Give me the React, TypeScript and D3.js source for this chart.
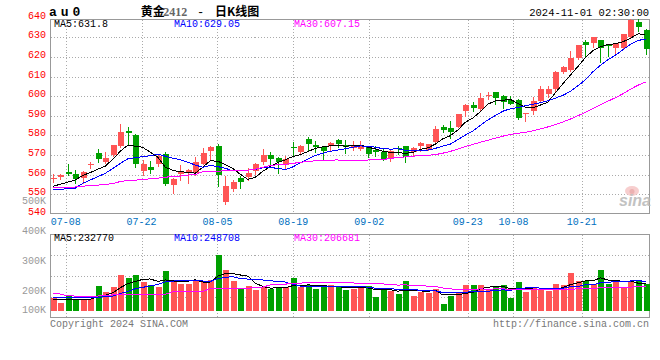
import React from "react";
import * as d3 from "d3";

const dates = [
  "07-04","07-05","07-08","07-09","07-10","07-11","07-12","07-15","07-16","07-17",
  "07-18","07-19","07-22","07-23","07-24","07-25","07-26","07-29","07-30","07-31",
  "08-01","08-02","08-05","08-06","08-07","08-08","08-09","08-12","08-13","08-14",
  "08-15","08-16","08-19","08-20","08-21","08-22","08-23","08-26","08-27","08-28",
  "08-29","08-30","09-02","09-03","09-04","09-05","09-06","09-09","09-10","09-11",
  "09-12","09-13","09-18","09-19","09-20","09-23","09-24","09-25","09-26","09-27",
  "09-30","10-08","10-09","10-10","10-11","10-14","10-15","10-16","10-17","10-18",
  "10-21","10-22","10-23","10-24","10-25","10-28","10-29","10-30","10-31","11-01",
];

const opens = [
  557.9, 558.5, 561.4, 560.3, 558, 564.9, 571, 566.4, 570.2, 574.4,
  582.2, 580.2, 561.9, 563.9, 565.3, 570.7, 554.7, 560.2, 561.4, 561,
  565.6, 572.2, 574.6, 545.8, 552.4, 558, 558.5, 561.9, 566.4, 570.2,
  568.5, 564.9, 574.1, 571.4, 578.1, 575.3, 573.9, 574.4, 577.6, 575.3,
  573.3, 573.1, 574.4, 572.7, 571.4, 568.5, 573.7, 574.4, 571.5, 574.4,
  572.7, 576.4, 584.4, 583.6, 584.2, 592.4, 595.3, 593.6, 600.4, 601.9,
  600.2, 598.1, 598.1, 591, 592.4, 597.5, 601.2, 603.4, 612.4, 613.4,
  619.2, 627.6, 627.3, 628.6, 626.3, 624.4, 624.6, 630, 637.8, 633.9,
];

const closes = [
  558.1, 559.7, 560.5, 557.8, 561.4, 565.6, 568.1, 568.5, 575.1, 581.7,
  581.4, 565.6, 565.6, 562.5, 569.5, 555.4, 557.8, 561.2, 562.4, 566.5,
  570.8, 574.1, 560, 554.2, 556.3, 556, 560.8, 565.6, 569.7, 568.1,
  566.4, 567.8, 573.9, 574.7, 575.8, 574.2, 572.2, 576.1, 575.8, 574.2,
  574.7, 574.4, 570.5, 571.7, 567.8, 572.2, 573.5, 569, 573.6, 576.1,
  575.6, 583.4, 582.5, 581.5, 590.7, 595.3, 594.1, 598.8, 600.6, 599,
  597, 596.1, 588.6, 591.3, 597.5, 603.7, 603.6, 612.4, 614.7, 619.2,
  625.9, 626.3, 630, 624.4, 625.6, 627, 631.7, 639, 635.4, 624.2,
];

const highs = [
  560.2, 560.2, 565.4, 562.2, 561.6, 566.6, 573.1, 571.4, 575.3, 585.8,
  584.2, 580.7, 567.5, 567, 570.3, 571.7, 558, 565, 562.9, 569,
  573.6, 574.7, 575.8, 559.3, 557.3, 559.3, 563.2, 565.8, 573.1, 571.5,
  568.7, 569.2, 576.6, 575.3, 579.3, 577.3, 574.6, 576.8, 578.1, 577.5,
  577.1, 577, 574.6, 574.4, 573.1, 572.7, 574.4, 574.6, 573.8, 576.8,
  575.8, 584.6, 585.4, 587.1, 590.9, 596.1, 597.1, 601.7, 601.9, 602.2,
  600.4, 600.2, 598.3, 591.5, 599.5, 604.9, 604.9, 612.6, 615.4, 623.2,
  626.1, 628.6, 630.3, 628.8, 626.6, 627.2, 631.9, 639.2, 639.5, 634.4,
];

const lows = [
  556.3, 557.6, 559.7, 555.6, 555.9, 563.2, 566.6, 566.1, 569.4, 573.9,
  575.6, 563.6, 559.5, 561, 564.1, 554.4, 550.8, 557.3, 555.6, 560,
  565.3, 568, 554.2, 545.1, 551.5, 552.9, 557.3, 560.2, 565.4, 564.9,
  561, 562.9, 570.2, 570.7, 571.9, 571.7, 567.5, 572.2, 573.9, 571,
  572.5, 572.4, 569, 569.2, 567.3, 567, 570.7, 566.4, 569.8, 571.9,
  572.4, 575.8, 581.9, 578.8, 584, 589.7, 592.4, 593.1, 598.6, 596.1,
  593.9, 595.8, 588.3, 587.3, 591, 597.1, 599.5, 602.7, 612, 613,
  618.9, 620.7, 625.3, 617.6, 620.7, 621.9, 624.4, 629.8, 633.4, 621.5,
];

const volumes = [
  114000, 68000, 128000, 100000, 91000, 105000, 214000, 162000, 205000, 308000,
  282000, 308000, 248000, 225000, 205000, 342000, 265000, 231000, 231000, 265000,
  248000, 265000, 479000, 350000, 259000, 188000, 214000, 179000, 208000, 188000,
  208000, 202000, 282000, 202000, 222000, 188000, 208000, 222000, 202000, 179000,
  185000, 211000, 214000, 123000, 197000, 168000, 145000, 256000, 128000, 162000,
  151000, 185000, 60000, 128000, 162000, 222000, 222000, 222000, 185000, 211000,
  219000, 114000, 248000, 162000, 197000, 179000, 171000, 231000, 222000, 325000,
  256000, 256000, 231000, 350000, 231000, 245000, 205000, 245000, 265000, 231000,
];

// moving-average values at the start of the window (they depend on sessions before it)
const ma5Lead = [554, 555, 556.1, 557.2];
const ma10Lead = [552.1, 552.1, 553, 553, 555.5, 557.2, 558.9, 560.6, 563];
const ma30Lead = [
  553.2, 553.2, 553.4, 553.6, 554.1, 554.2, 554.6, 554.9, 555.4, 556.4,
  557, 557.1, 557.5, 557.8, 558.1, 558.6, 559, 559.2, 559.7, 560,
  561.4, 561.5, 561.7, 561.9, 561.9, 562, 562.2, 562.7, 563.7,
];
const volMa5Lead = [100000, 97000, 95000, 94000];
const volMa10Lead = [114000, 113000, 113000, 112000, 112000, 114000, 116000, 122000, 126000];
const volMa30Lead = [
  151000, 145000, 130000, 128000, 128000, 128000, 128000, 132000, 138000, 139000,
  139000, 139000, 139000, 139000, 142000, 142000, 165000, 165000, 165000, 165000,
  165000, 194000, 194000, 194000, 194000, 194000, 194000, 205000, 205000,
];

const priceTicks = [640, 630, 620, 610, 600, 590, 580, 570, 560, 550, 540];
const gridPrices = [630, 620, 610, 600, 590, 580, 570, 560, 550];
const dateTicks = ["07-08", "07-22", "08-05", "08-19", "09-02", "09-23", "10-08", "10-21"];
const volTicks = [500000, 400000, 300000, 200000, 100000];
const volTickLabels = ["500K", "400K", "300K", "200K", "100K"];
const priceLegend = ["MA5:631.8", "MA10:629.05", "MA30:607.15"];
const volLegend = ["MA5:232770", "MA10:248708", "MA30:206681"];
const maColors = ["#000000", "#0000FF", "#FF00FF"];

const RED = "#FF5555";
const GREEN = "#00A000";
const MONO = "'Liberation Mono', 'DejaVu Sans Mono', monospace";

function movingAverage(values: number[], n: number, lead: number[]): number[] {
  return values.map((_, i) =>
    i < n - 1 ? lead[i] : (d3.mean(values.slice(i - n + 1, i + 1)) as number)
  );
}

export default function App() {
  const W = 660, H = 360;
  const left = 50.5, right = 649.5;
  const mainTop = 19.5, mainBottom = 213.5;
  const volTop = 234.5, volBottom = 317.5;
  const n = closes.length;

  const x = d3.scaleLinear().domain([0, n - 1]).range([52.7, 645.5]);
  const gx = d3.scaleLinear().domain([0, n - 1]).range([50.5, 650]);
  const y = d3.scaleLinear().domain([540, 640]).range([213.7, 17.7]);
  const vy = d3.scaleLinear().domain([0, d3.max(volumes) as number]).range([311, 255]);
  const vAxis = d3.scaleLinear().domain([100000, 500000]).range([321.7, 201]);

  const idx = d3.range(n);
  const mas = [
    movingAverage(closes, 5, ma5Lead),
    movingAverage(closes, 10, ma10Lead),
    movingAverage(closes, 30, ma30Lead),
  ];
  const vmas = [
    movingAverage(volumes, 5, volMa5Lead),
    movingAverage(volumes, 10, volMa10Lead),
    movingAverage(volumes, 30, volMa30Lead),
  ];
  const priceLine = (vals: number[]) =>
    d3.line<number>().x((i) => x(i)).y((i) => y(vals[i]))(idx) as string;
  const volLine = (vals: number[]) =>
    d3.line<number>().x((i) => x(i)).y((i) => vy(vals[i]))(idx) as string;

  const tickIdx = dateTicks.map((d) => dates.indexOf(d));
  const volGrid = [1, 2, 3].map((k) => Math.round(volTop + ((volBottom - volTop) * k) / 4) + 0.5);

  return (
    <svg
      width={W}
      height={H}
      viewBox={`0 0 ${W} ${H}`}
      style={{ position: "absolute", left: 0, top: 0, background: "#fff" }}
    >
      <rect x={0} y={0} width={W} height={H} fill="#fff" />

      {/* header */}
      <text x={49} y={16} fontFamily={MONO} fontSize={13} fontWeight="bold" letterSpacing={4} fill="#000">
        au0
      </text>
      <text y={16} fontSize={12} fill="#000">
        <tspan x={140.7} fontFamily="'Noto Sans CJK SC'" fontWeight="bold">黄金</tspan>
        <tspan x={163.3} fontFamily="'Liberation Serif', serif" fill="#666" fontWeight="bold">2412</tspan>
        <tspan x={197} fontFamily={MONO}>-</tspan>
        <tspan x={215} fontFamily="'Noto Sans CJK SC'" fontWeight="bold">日K线图</tspan>
      </text>
      <text x={649} y={16} textAnchor="end" fontFamily={MONO} fontSize={10.5} fill="#000">
        2024-11-01 02:30:00
      </text>

      {/* main grid */}
      <g stroke="#aaa" strokeWidth={1} strokeDasharray="1,2" shapeRendering="crispEdges">
        {gridPrices.map((p) => (
          <line key={p} x1={left} x2={right} y1={Math.round(y(p)) + 0.5} y2={Math.round(y(p)) + 0.5} />
        ))}
        {tickIdx.map((i) => (
          <line key={"m" + i} x1={Math.round(gx(i)) + 0.5} x2={Math.round(gx(i)) + 0.5} y1={mainTop} y2={mainBottom} />
        ))}
        {volGrid.map((g) => (
          <line key={"v" + g} x1={left} x2={right} y1={g} y2={g} />
        ))}
        {tickIdx.map((i) => (
          <line key={"vv" + i} x1={Math.round(gx(i)) + 0.5} x2={Math.round(gx(i)) + 0.5} y1={volTop} y2={volBottom} />
        ))}
      </g>

      {/* frames */}
      <g fill="none" stroke="#999" strokeWidth={1} shapeRendering="crispEdges">
        <rect x={left} y={mainTop} width={right - left} height={mainBottom - mainTop} />
        <rect x={left} y={volTop} width={right - left} height={volBottom - volTop} />
      </g>

      {/* sina watermark */}
      <g opacity={0.85}>
        <ellipse cx={632} cy={191} rx={7} ry={5} fill="#f6c6c6" />
        <circle cx={632} cy={191.5} r={2.5} fill="#e9a4a4" />
        <text x={619} y={206} fontFamily="'Liberation Sans', sans-serif" fontStyle="italic" fontWeight="bold" fontSize={16} fill="#b8b8b8">
          sina
        </text>
      </g>

      {/* price axis labels */}
      {priceTicks.map((p) => (
        <text key={p} x={46} y={y(p) - 1.5} textAnchor="end" dominantBaseline="middle" fontFamily={MONO} fontSize={10} fill="#FF0000">
          {p}
        </text>
      ))}
      {volTicks.map((v, k) => (
        <text key={v} x={46} y={Math.min(vAxis(v), 310)} textAnchor="end" dominantBaseline="middle" fontFamily={MONO} fontSize={10} fill="#999">
          {volTickLabels[k]}
        </text>
      ))}

      {/* date labels */}
      {tickIdx.map((i, k) => (
        <text key={k} x={gx(i)} y={222} textAnchor="middle" dominantBaseline="middle" fontFamily={MONO} fontSize={10} fill="#0070C0">
          {dateTicks[k]}
        </text>
      ))}

      {/* candles */}
      <g shapeRendering="crispEdges">
        {idx.map((i) => {
          const up = closes[i] >= opens[i];
          const c = up ? RED : GREEN;
          const cx = Math.round(x(i));
          const top = Math.round(y(Math.max(opens[i], closes[i])));
          const bot = Math.round(y(Math.min(opens[i], closes[i])));
          return (
            <g key={i}>
              <line x1={cx + 0.5} x2={cx + 0.5} y1={Math.round(y(highs[i]))} y2={Math.round(y(lows[i])) + 1} stroke={c} strokeWidth={1} />
              <rect x={cx - 2} y={top} width={6} height={Math.max(1, bot - top)} fill={c} />
            </g>
          );
        })}
      </g>

      {/* price MAs */}
      <g fill="none" strokeWidth={1} shapeRendering="crispEdges">
        {mas.map((m, k) => (
          <path key={k} d={priceLine(m)} stroke={maColors[k]} />
        ))}
      </g>

      {/* volume bars */}
      <g shapeRendering="crispEdges">
        {idx.map((i) => {
          const up = closes[i] >= opens[i];
          const cx = Math.round(x(i));
          const top = Math.round(vy(volumes[i]));
          return <rect key={i} x={cx - 2} y={top} width={6} height={Math.round(vy(0)) - top} fill={up ? RED : GREEN} />;
        })}
      </g>
      <g fill="none" strokeWidth={1} shapeRendering="crispEdges">
        {vmas.map((m, k) => (
          <path key={k} d={volLine(m)} stroke={maColors[k]} />
        ))}
      </g>

      {/* legends */}
      {priceLegend.map((t, k) => (
        <text key={t} x={54 + k * 120} y={24.5} dominantBaseline="middle" fontFamily={MONO} fontSize={10} fill={maColors[k]}>
          {t}
        </text>
      ))}
      {volLegend.map((t, k) => (
        <text key={t} x={54 + k * 120} y={238.5} dominantBaseline="middle" fontFamily={MONO} fontSize={10} fill={maColors[k]}>
          {t}
        </text>
      ))}

      {/* footer */}
      <text x={50} y={324} dominantBaseline="middle" fontFamily={MONO} fontSize={10} fill="#777">
        Copyright 2024 SINA.COM
      </text>
      <text x={649} y={324} textAnchor="end" dominantBaseline="middle" fontFamily={MONO} fontSize={10} fill="#777">
        http://finance.sina.com.cn
      </text>
    </svg>
  );
}
